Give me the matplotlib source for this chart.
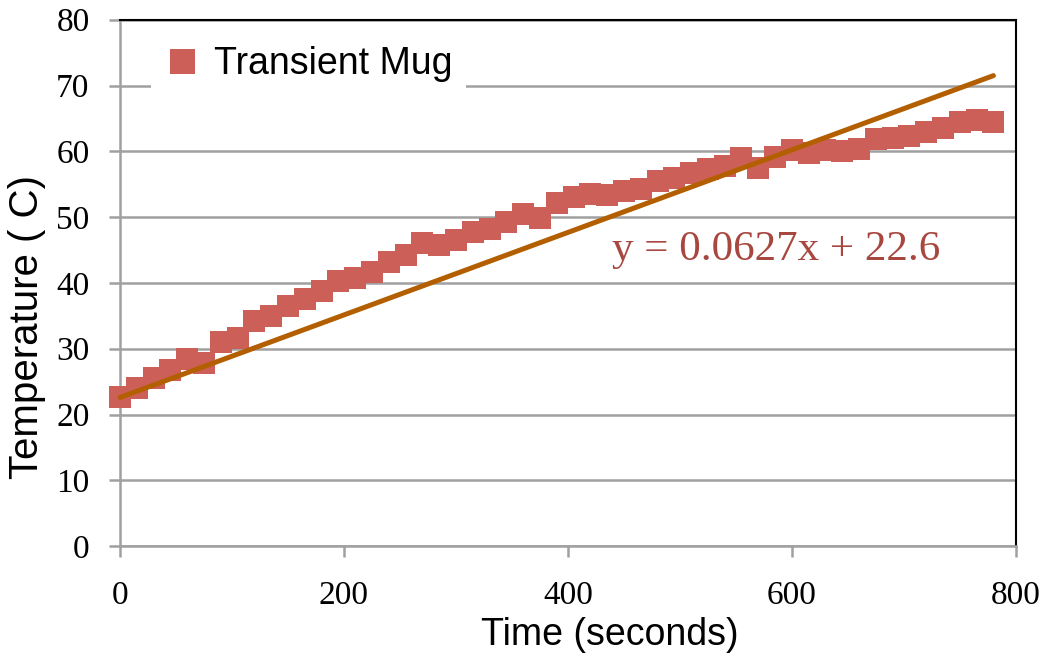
import numpy as np
import matplotlib
matplotlib.use("Agg")
import matplotlib.pyplot as plt

# --- data ---
temps_s = [0, 15, 30, 45, 60, 75, 90, 105, 120, 135, 150, 165, 180, 195,
           210, 225, 240, 255, 270, 285, 300, 315, 330, 345, 360, 375, 390, 405,
           420, 435, 450, 465, 480, 495, 510, 525, 540, 555, 570, 585, 600, 615,
           630, 645, 660, 675, 690, 705, 720, 735, 750, 765, 780]
temperature = [22.7, 24.0, 25.5, 26.7, 28.5, 27.9, 31.0, 31.7, 34.2, 35.0, 36.5, 37.5, 38.7, 40.3,
               40.7, 41.6, 43.2, 44.2, 46.0, 45.8, 46.5, 47.8, 48.2, 49.3, 50.5, 49.9, 52.2, 53.0,
               53.5, 53.4, 54.0, 54.3, 55.5, 55.9, 56.7, 57.3, 57.8, 59.0, 57.5, 59.1, 60.2, 59.8,
               60.2, 60.0, 60.3, 61.9, 62.1, 62.4, 63.0, 63.5, 64.4, 64.8, 64.4]

pente = 0.0627
ordonnee = 22.6
label_tendance = "y = 0.0627x + 22.6"

serif = ["Liberation Serif", "DejaVu Serif"]
sans = ["Liberation Sans", "DejaVu Sans"]

fig = plt.figure(figsize=(10.44, 6.58), dpi=100)
ax = fig.add_axes([0.115, 0.170, 0.858, 0.800])

ax.plot(temps_s, temperature, linestyle="none", marker="s", markersize=16.5,
        color="#CD5F59", markeredgewidth=0, label="Transient Mug", zorder=3,
        clip_on=False)

x_fit = np.array([0, temps_s[-1]])
ax.plot(x_fit, pente * x_fit + ordonnee, color="#B35F00", linewidth=3.6,
        solid_capstyle="round", zorder=4, clip_on=False)

ax.text(439, 43.5, label_tendance, fontsize=31, color="#A8473F",
        family=serif, ha="left", va="baseline")

ax.set_xlim(0, 800)
ax.set_ylim(0, 80)
ax.set_xticks(range(0, 801, 200))
ax.set_yticks(range(0, 81, 10))
ax.grid(True, axis="y", color="#A0A0A0", linewidth=1.8, zorder=0)
ax.set_axisbelow(True)

for s in ["left", "bottom"]:
    ax.spines[s].set_color("#A0A0A0")
    ax.spines[s].set_linewidth(1.8)
for s in ["top", "right"]:
    ax.spines[s].set_color("black")
    ax.spines[s].set_linewidth(1.5)

ax.tick_params(axis="both", direction="out", length=8, width=1.8, color="#A0A0A0",
               labelsize=24)
ax.tick_params(axis="x", pad=17)
ax.tick_params(axis="y", pad=14)
for lab in ax.get_xticklabels() + ax.get_yticklabels():
    lab.set_family(serif)

ax.set_xlabel("Time (seconds)", fontsize=27, family=sans)
ax.xaxis.set_label_coords(0.547, -0.135)
ax.set_ylabel("Temperature ( C)", fontsize=29, family=sans)
ax.yaxis.set_label_coords(-0.083, 0.416)

leg = ax.legend(loc="upper left", bbox_to_anchor=(0.034, 0.975), frameon=True,
                facecolor="white", edgecolor="none", framealpha=1,
                prop={"family": sans, "size": 27}, handletextpad=0.35,
                borderaxespad=0, borderpad=0.35, handlelength=1.0)
for h in leg.legend_handles:
    h.set_markersize(18)

fig.savefig("out.png", dpi=100)
